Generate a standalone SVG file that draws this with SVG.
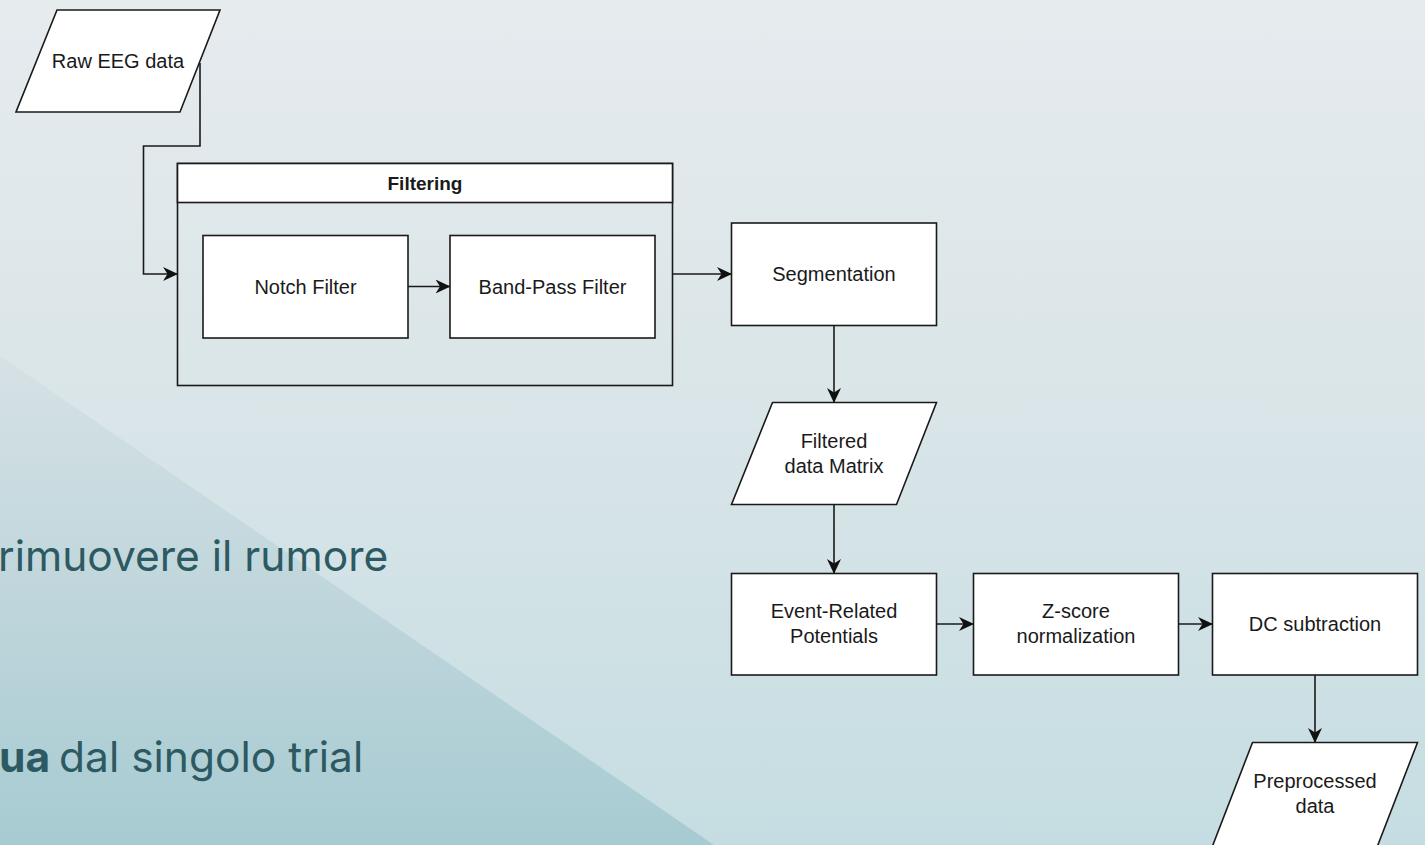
<svg xmlns="http://www.w3.org/2000/svg" width="1425" height="845" viewBox="0 0 1425 845">
<defs>
<linearGradient id="bg" gradientUnits="userSpaceOnUse" x1="0" y1="0" x2="0" y2="845">
<stop offset="0" stop-color="#e6ebee"/>
<stop offset="0.5" stop-color="#d9e5e8"/>
<stop offset="1" stop-color="#c5dde2"/>
</linearGradient>
<linearGradient id="tri" gradientUnits="userSpaceOnUse" x1="0" y1="356" x2="0" y2="845">
<stop offset="0" stop-color="#d6e1e5"/>
<stop offset="1" stop-color="#a7cbd2"/>
</linearGradient>
<marker id="arr" markerUnits="userSpaceOnUse" viewBox="0 0 15 14" refX="14.5" refY="7" markerWidth="15" markerHeight="14" orient="auto">
<path d="M0,0 L15,7 L0,14 L4.5,7 Z" fill="#111111"/>
</marker>
<style>
.box{fill:#ffffff;stroke:#1a1a1a;stroke-width:1.6}
.frame{fill:none;stroke:#1a1a1a;stroke-width:1.6}
.lbl{font-family:"Liberation Sans",Arial,sans-serif;font-size:20px;fill:#1a1a1a;text-anchor:middle}
.hdr{font-family:"Liberation Sans",Arial,sans-serif;font-size:19px;font-weight:bold;fill:#1a1a1a;text-anchor:middle}
.edge{fill:none;stroke:#1a1a1a;stroke-width:1.6;marker-end:url(#arr)}
.note{font-family:Inter,"Noto Sans",sans-serif;font-size:42.5px;fill:#2d5a62}
</style>
</defs>
<rect x="0" y="0" width="1425" height="845" fill="url(#bg)"/>
<polygon points="0,356 714,845 0,845" fill="url(#tri)"/>
<g id="notes">
<text class="note" x="-2" y="571">rimuovere il rumore</text>
<text class="note" x="-1" y="772" font-weight="bold" fill="#24505a">ua</text>
<text class="note" x="59" y="772">dal singolo trial</text>
</g>
<g id="connectors">
<path class="edge" d="M200,63 V146 H143.5 V274 H177.5"/>
<path class="edge" d="M408,286.5 H450"/>
<path class="edge" d="M672.5,274 H731.5"/>
<path class="edge" d="M834,325.5 V402.5"/>
<path class="edge" d="M834,504.5 V573.5"/>
<path class="edge" d="M936.5,624 H973.5"/>
<path class="edge" d="M1178.5,624 H1212.5"/>
<path class="edge" d="M1315,675 V742.5"/>
</g>
<g id="raw-eeg">
<polygon class="box" points="57,10 220,10 180,112 16,112"/>
<text class="lbl" x="118" y="68">Raw EEG data</text>
</g>
<g id="filtering">
<rect class="frame" x="177.5" y="163.5" width="495" height="222"/>
<rect class="box" x="177.5" y="163.5" width="495" height="39"/>
<text class="hdr" x="425" y="190">Filtering</text>
</g>
<g id="notch-filter">
<rect class="box" x="203" y="235.5" width="205" height="102.5"/>
<text class="lbl" x="305.5" y="293.5">Notch Filter</text>
</g>
<g id="band-pass-filter">
<rect class="box" x="450" y="235.5" width="205" height="102.5"/>
<text class="lbl" x="552.5" y="293.5">Band-Pass Filter</text>
</g>
<g id="segmentation">
<rect class="box" x="731.5" y="223" width="205" height="102.5"/>
<text class="lbl" x="834" y="281">Segmentation</text>
</g>
<g id="filtered-data">
<polygon class="box" points="772.5,402.5 936.5,402.5 896.5,504.5 731.5,504.5"/>
<text class="lbl" x="834" y="448">Filtered</text>
<text class="lbl" x="834" y="473">data Matrix</text>
</g>
<g id="erp">
<rect class="box" x="731.5" y="573.5" width="205" height="101.5"/>
<text class="lbl" x="834" y="618">Event-Related</text>
<text class="lbl" x="834" y="643">Potentials</text>
</g>
<g id="zscore">
<rect class="box" x="973.5" y="573.5" width="205" height="101.5"/>
<text class="lbl" x="1076" y="618">Z-score</text>
<text class="lbl" x="1076" y="643">normalization</text>
</g>
<g id="dc-subtraction">
<rect class="box" x="1212.5" y="573.5" width="205" height="101.5"/>
<text class="lbl" x="1315" y="631">DC subtraction</text>
</g>
<g id="preprocessed">
<polygon class="box" points="1252.5,742.5 1417.5,742.5 1377.5,846 1212.5,846"/>
<text class="lbl" x="1315" y="788">Preprocessed</text>
<text class="lbl" x="1315" y="813">data</text>
</g>
</svg>
